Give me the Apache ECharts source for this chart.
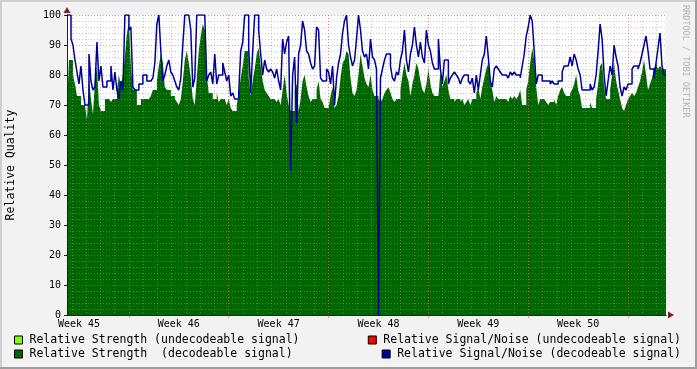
<!DOCTYPE html>
<html>
<head>
<meta charset="utf-8">
<script src="https://cdn.jsdelivr.net/npm/echarts@6/dist/echarts.min.js"></script>
<style>
html,body{margin:0;padding:0;background:#F2F2F2;}
#chart{width:697px;height:369px;}
</style>
</head>
<body>
<div id="chart"></div>
<script>
// ---- data (6 weeks, one sample every 3.36 hours) ----
const weekLabels = ['Week 45', 'Week 46', 'Week 47', 'Week 48', 'Week 49', 'Week 50'];
const yTickLabels = [0, 10, 20, 30, 40, 50, 60, 70, 80, 90, 100];

const snrDecodeable = [
100,100,92,90,85,81,77,83,75,70,
70,87,78,75,76,91,78,83,76,76,
78,78,83,75,81,75,72,78,75,100,
100,95,96,76,75,75,77,77,80,80,
78,78,78,79,84,97,100,88,78,80,
83,85,81,80,78,76,75,79,90,100,
100,100,95,76,79,100,100,100,100,100,
78,80,81,77,87,77,80,80,84,81,
78,80,73,74,72,72,74,88,91,100,
100,89,74,88,100,100,95,87,80,85,
82,81,82,81,79,82,78,75,92,87,
91,93,48,80,86,64,87,90,98,95,
88,87,84,82,83,96,95,79,78,78,
82,81,77,83,70,79,84,87,94,98,
100,90,86,83,85,92,100,95,88,86,
87,82,92,86,85,82,0,79,82,85,
87,87,83,79,78,81,80,85,88,95,
85,81,87,90,96,90,86,91,86,84,
95,90,88,84,82,82,92,82,77,85,
85,77,79,80,81,80,79,77,79,80,
80,78,77,79,74,80,75,80,85,87,
93,86,78,76,82,83,82,81,80,80,
80,79,81,80,81,80,80,79,83,87,
93,96,100,98,88,77,80,80,78,78,
78,78,77,78,77,77,78,78,81,83,
83,83,86,83,87,85,82,80,75,75,
75,75,77,75,76,80,88,97,92,80,
73,78,83,80,90,86,83,76,73,76,
75,77,77,82,83,83,82,84,87,90,
93,88,82,82,79,84,89,94,83,80
];

const strengthDecodeable = [
69,85,85,80,77,73,73,70,70,70,
65,79,72,67,78,83,70,68,68,72,
72,72,71,72,72,75,80,76,80,86,
94,97,83,75,75,70,70,72,72,72,
72,72,73,75,75,78,83,87,84,76,
75,75,73,73,72,71,70,72,78,85,
88,84,79,72,70,79,88,93,97,95,
80,74,74,72,72,74,71,72,72,72,
70,72,69,68,68,70,74,79,83,88,
88,79,73,78,82,87,89,83,78,75,
74,73,72,72,72,71,72,70,75,80,
74,70,68,68,75,77,68,72,78,80,
76,73,71,72,72,75,78,72,71,69,
69,69,73,76,69,70,73,79,84,85,
88,87,79,74,73,75,80,87,83,79,
77,76,80,75,73,73,72,71,72,74,
75,76,74,72,71,72,72,75,80,84,
80,78,73,77,80,84,82,78,75,74,
77,82,77,74,73,73,73,81,76,78,
80,75,72,72,71,72,72,71,72,70,
71,72,70,72,72,74,76,72,76,79,
82,84,78,75,71,73,72,72,72,72,
72,71,73,72,73,72,73,75,70,70,
75,78,84,89,85,76,70,72,72,72,
71,70,71,71,72,70,73,75,76,74,
73,73,74,75,77,80,75,73,69,69,
69,69,71,69,69,72,77,83,84,76,
72,72,75,80,84,78,75,72,69,68,
70,72,73,74,73,74,76,78,81,85,
80,75,77,79,82,84,82,83,82,82
];

const strengthUndecodeable = [];
const snrUndecodeable = [];

// ---- time scale ----
const HOURS_TOTAL = 1008;          // 6 weeks
const STEP_HOURS = 3.36;           // sample spacing
const FIRST_WEEK_START = 104.16;   // hours from graph start to first Monday 00:00
const FIRST_MIDNIGHT = 8.16;

function toPairs(vals) {
  const out = vals.map((v, i) => [i * STEP_HOURS, v]);
  if (vals.length) out.push([HOURS_TOTAL, vals[vals.length - 1]]);
  return out;
}

const weekStarts = [];
for (let t = FIRST_WEEK_START; t < HOURS_TOTAL; t += 168) weekStarts.push(+t.toFixed(2));
const weekLabelPos = weekLabels.map((_, k) => +(FIRST_WEEK_START - 84 + 168 * k).toFixed(2));
const dayLines = [];
for (let t = FIRST_MIDNIGHT; t < HOURS_TOTAL; t += 24) dayLines.push(+t.toFixed(2));

const MONO = 'DejaVu Sans Mono';
const GRID_COL = 'rgba(150,150,150,0.5)';
const MGRID_COL = 'rgba(222,79,79,0.55)';
const AXIS_COL = '#1F1F1F';
const ARROW_COL = '#801F1F';

const names = [
  'Relative Strength (undecodeable signal)',
  'Relative Strength  (decodeable signal)',
  'Relative Signal/Noise (undecodeable signal)',
  'Relative Signal/Noise (decodeable signal)'
];

function legendFor(name, pos) {
  return Object.assign({
    data: [name], icon: 'rect', itemWidth: 8, itemHeight: 8, padding: 0, itemGap: 0,
    selectedMode: false, orient: 'horizontal',
    itemStyle: { borderColor: '#000', borderWidth: 1 },
    textStyle: { fontFamily: MONO, fontSize: 11.5, color: '#000', padding: [0, 0, 0, 2] }
  }, pos);
}

const chart = echarts.init(document.getElementById('chart'));
chart.setOption({
  animation: false,
  backgroundColor: '#F2F2F2',
  grid: { left: 67, right: 31, top: 15, bottom: 54, show: true, backgroundColor: '#FFFFFF', borderWidth: 0,
    containLabel: false, outerBoundsMode: 'none' },
  legend: [
    legendFor(names[0], { left: 14, top: 334 }),
    legendFor(names[1], { left: 14, top: 348 }),
    legendFor(names[2], { right: 16, top: 334 }),
    legendFor(names[3], { right: 16, top: 348 })
  ],
  xAxis: [
    {
      type: 'value', min: 0, max: HOURS_TOTAL, position: 'bottom', z: 4,
      axisLine: { show: true, onZero: false, lineStyle: { color: AXIS_COL, width: 1 } },
      axisTick: { show: true, customValues: weekStarts, length: 3, lineStyle: { color: MGRID_COL } },
      axisLabel: {
        customValues: weekLabelPos, fontFamily: MONO, fontSize: 10, color: '#000', margin: 4,
        formatter: v => weekLabels[Math.round((v - weekLabelPos[0]) / 168)]
      },
      splitLine: { show: true, lineStyle: { color: MGRID_COL, type: [1, 2], width: 1 } }
    },
    {
      type: 'value', min: 0, max: HOURS_TOTAL, position: 'bottom', z: 3,
      axisLine: { show: false },
      axisTick: { show: false, customValues: dayLines },
      axisLabel: { show: false },
      splitLine: { show: true, lineStyle: { color: GRID_COL, type: [1, 2], width: 1 } }
    },
    {
      type: 'value', min: 0, max: HOURS_TOTAL, position: 'bottom', z: 1,
      axisLine: { show: true, onZero: false, symbol: ['none', 'triangle'], symbolSize: [7, 6], symbolOffset: [0, 5],
        lineStyle: { color: ARROW_COL, width: 1 } },
      axisTick: { show: false }, axisLabel: { show: false }, splitLine: { show: false }
    }
  ],
  yAxis: [
    {
      type: 'value', min: 0, max: 100, interval: 10, z: 4,
      name: 'Relative Quality', nameLocation: 'middle', nameGap: 50,
      nameTextStyle: { fontFamily: MONO, fontSize: 11.5, color: '#000' },
      axisLine: { show: true, onZero: false, lineStyle: { color: AXIS_COL, width: 1 } },
      axisTick: { show: true, length: 3, lineStyle: { color: AXIS_COL } },
      axisLabel: { fontFamily: MONO, fontSize: 10, color: '#000', margin: 6,
        formatter: v => String(yTickLabels[Math.round(v / 10)]) },
      splitLine: { show: true, lineStyle: { color: MGRID_COL, type: [1, 2], width: 1 } },
      minorTick: { show: false, splitNumber: 5 },
      minorSplitLine: { show: true, lineStyle: { color: GRID_COL, type: [1, 2], width: 1 } }
    },
    {
      type: 'value', min: 0, max: 100, position: 'left', z: 1,
      axisLine: { show: true, onZero: false, symbol: ['none', 'triangle'], symbolSize: [7, 6], symbolOffset: [0, 5],
        lineStyle: { color: ARROW_COL, width: 1 } },
      axisTick: { show: false }, axisLabel: { show: false }, splitLine: { show: false }
    }
  ],
  series: [
    { name: names[0], type: 'line', data: strengthUndecodeable, color: '#7FFF00', showSymbol: false, z: 2 },
    {
      name: names[1], type: 'line', step: 'end', data: toPairs(strengthDecodeable), color: '#006600',
      showSymbol: false, lineStyle: { width: 0 }, areaStyle: { color: '#006600', opacity: 1 }, z: 2
    },
    { name: names[2], type: 'line', data: snrUndecodeable, color: '#FF0000', showSymbol: false, z: 5 },
    {
      name: names[3], type: 'line', step: 'end', data: toPairs(snrDecodeable), color: '#000099',
      showSymbol: false, lineStyle: { width: 1.5, color: '#000099' }, z: 5
    }
  ],
  graphic: [
    { type: 'rect', shape: { x: 0, y: 0, width: 697, height: 2 }, style: { fill: '#CFCFCF' }, silent: true },
    { type: 'rect', shape: { x: 0, y: 0, width: 2, height: 369 }, style: { fill: '#CFCFCF' }, silent: true },
    { type: 'rect', shape: { x: 0, y: 367, width: 697, height: 2 }, style: { fill: '#9E9E9E' }, silent: true },
    { type: 'rect', shape: { x: 695, y: 0, width: 2, height: 369 }, style: { fill: '#9E9E9E' }, silent: true },
    {
      type: 'text', x: 690, y: 5, rotation: -Math.PI / 2, silent: true,
      style: { text: 'RRDTOOL / TOBI OETIKER', fill: '#B4B4B4', font: '8.5px "DejaVu Sans Mono"',
        textAlign: 'left', textVerticalAlign: 'top' }
    }
  ]
});
</script>
</body>
</html>
